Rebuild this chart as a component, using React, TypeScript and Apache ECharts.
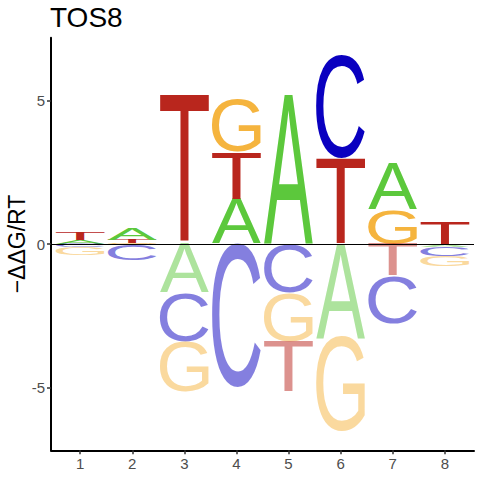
import React, { useEffect, useRef } from "react";
import * as echarts from "echarts";

// ---- data ----
const positions = [1, 2, 3, 4, 5, 6, 7, 8];
const letters = ["A", "C", "G", "T"];
const valuesA = [0.13, 0.42, -1.69, 1.55, 5.17, -3.28, 1.6, -0.1];
const valuesC = [-0.12, -0.56, -1.72, -5.03, -1.69, 3.58, -1.67, -0.32];
const valuesG = [-0.27, 0.03, -1.76, 1.83, -1.72, -3.29, 1.2, -0.35];
const valuesT = [0.26, 0.11, 5.17, 1.65, -1.76, 2.99, -1.13, 0.77];
const xTickValues = [1, 2, 3, 4, 5, 6, 7, 8];
const yTickValues = [-5, 0, 5];
const titleText = "TOS8";
const yAxisName = "\u2212\u0394\u0394G/RT";

// ---- styles ----
const letterColors = ["#5CC83C", "#0A00C0", "#F5B43E", "#B9261D"];
const LETTER_WIDTH = 0.94;
const GLYPH_FONT_SIZE = 100;
const GLYPH_FONT_FAMILY = "'Liberation Sans'";
const GLYPH_FONT_WEIGHT = 400;
const TEXT_FONT = "'Liberation Sans', Arial, sans-serif";

function buildStacks() {
  const all = [valuesA, valuesC, valuesG, valuesT];
  const out: number[][] = [];
  positions.forEach((pos, i) => {
    const items = all.map((arr, li) => ({ li, v: arr[i] }));
    const pos_ = items.filter((d) => d.v > 0).sort((a, b) => a.v - b.v);
    const neg_ = items.filter((d) => d.v < 0).sort((a, b) => b.v - a.v);
    let acc = 0;
    pos_.forEach((d) => {
      out.push([pos, acc, acc + d.v, d.li, 0]);
      acc += d.v;
    });
    acc = 0;
    neg_.forEach((d) => {
      out.push([pos, acc, acc + d.v, d.li, 1]);
      acc += d.v;
    });
  });
  return out;
}

function measureGlyphs() {
  const canvas = document.createElement("canvas");
  const ctx = canvas.getContext("2d") as CanvasRenderingContext2D;
  ctx.font = `${GLYPH_FONT_WEIGHT} ${GLYPH_FONT_SIZE}px ${GLYPH_FONT_FAMILY}`;
  ctx.textBaseline = "alphabetic";
  ctx.textAlign = "left";
  return letters.map((ch) => {
    const m = ctx.measureText(ch);
    const fA = (m as any).fontBoundingBoxAscent ?? GLYPH_FONT_SIZE * 0.905;
    const fD = (m as any).fontBoundingBoxDescent ?? GLYPH_FONT_SIZE * 0.212;
    const central = (fA - fD) / 2; // central baseline above alphabetic
    const left = -m.actualBoundingBoxLeft;
    const w = m.actualBoundingBoxLeft + m.actualBoundingBoxRight;
    const top = central - m.actualBoundingBoxAscent;
    const h = m.actualBoundingBoxAscent + m.actualBoundingBoxDescent;
    return { left, w, top, h };
  });
}

export default function App() {
  const ref = useRef<HTMLDivElement>(null);
  useEffect(() => {
    document.body.style.margin = "0";
    if (!ref.current) return;
    const chart = echarts.init(ref.current, undefined, { renderer: "svg" });
    const data = buildStacks();
    const metrics = measureGlyphs();

    const renderItem = (params: any, api: any) => {
      const x = api.value(0);
      const y0 = api.value(1);
      const y1 = api.value(2);
      const li = api.value(3);
      const neg = api.value(4);
      const half = LETTER_WIDTH / 2;
      const pA = api.coord([x - half, Math.max(y0, y1)]);
      const pB = api.coord([x + half, Math.min(y0, y1)]);
      const W = pB[0] - pA[0];
      const H = pB[1] - pA[1];
      const m = metrics[li];
      const sx = W / m.w;
      const sy = H / m.h;
      return {
        type: "text",
        x: pA[0] - m.left * sx,
        y: pA[1] - m.top * sy,
        scaleX: sx,
        scaleY: sy,
        style: {
          text: letters[li],
          x: 0,
          y: 0,
          fill: letterColors[li],
          opacity: neg ? 0.5 : 1,
          fontSize: GLYPH_FONT_SIZE,
          fontFamily: GLYPH_FONT_FAMILY,
          fontWeight: GLYPH_FONT_WEIGHT,
          align: "left",
          verticalAlign: "middle",
          textAlign: "left",
          textVerticalAlign: "middle",
        },
      };
    };

    chart.setOption({
      animation: false,
      title: {
        text: titleText,
        left: 50,
        top: 3,
        padding: 0,
        textStyle: {
          fontSize: 28,
          fontWeight: "normal",
          color: "#000",
          fontFamily: TEXT_FONT,
        },
      },
      grid: {
        left: 51,
        right: 6,
        top: 37.7,
        bottom: 29.7,
        containLabel: false,
        outerBoundsMode: "none",
      },
      xAxis: {
        type: "value",
        min: 0.44,
        max: 8.56,
        axisLine: { onZero: false, lineStyle: { color: "#000", width: 2 } },
        axisTick: {
          show: true,
          length: 4,
          customValues: xTickValues,
          lineStyle: { color: "#333", width: 1.5 },
        },
        axisLabel: {
          customValues: xTickValues,
          margin: 6,
          fontSize: 15,
          color: "#4D4D4D",
          fontFamily: TEXT_FONT,
        },
        splitLine: { show: false },
      },
      yAxis: {
        type: "value",
        min: -7.2,
        max: 7.2,
        name: yAxisName,
        nameLocation: "middle",
        nameGap: 23,
        nameRotate: 90,
        nameMoveOverlap: false,
        nameTextStyle: { fontSize: 23, color: "#000", fontFamily: TEXT_FONT },
        axisLine: { show: true, onZero: false, lineStyle: { color: "#000", width: 2 } },
        axisTick: {
          show: true,
          length: 4,
          customValues: yTickValues,
          lineStyle: { color: "#333", width: 1.5 },
        },
        axisLabel: {
          customValues: yTickValues,
          margin: 6,
          fontSize: 15,
          color: "#4D4D4D",
          fontFamily: TEXT_FONT,
          formatter: (v: number) => String(v),
        },
        splitLine: { show: false },
      },
      series: [
        {
          type: "custom",
          renderItem,
          data,
          encode: { x: 0, y: [1, 2] },
          clip: false,
          silent: true,
          markLine: {
            silent: true,
            symbol: ["none", "none"],
            label: { show: false },
            lineStyle: { color: "#000", width: 1, type: "solid" },
            data: [{ yAxis: 0 }],
            animation: false,
          },
        },
      ],
    });
    return () => chart.dispose();
  }, []);
  return <div ref={ref} style={{ width: 480, height: 480 }} />;
}
